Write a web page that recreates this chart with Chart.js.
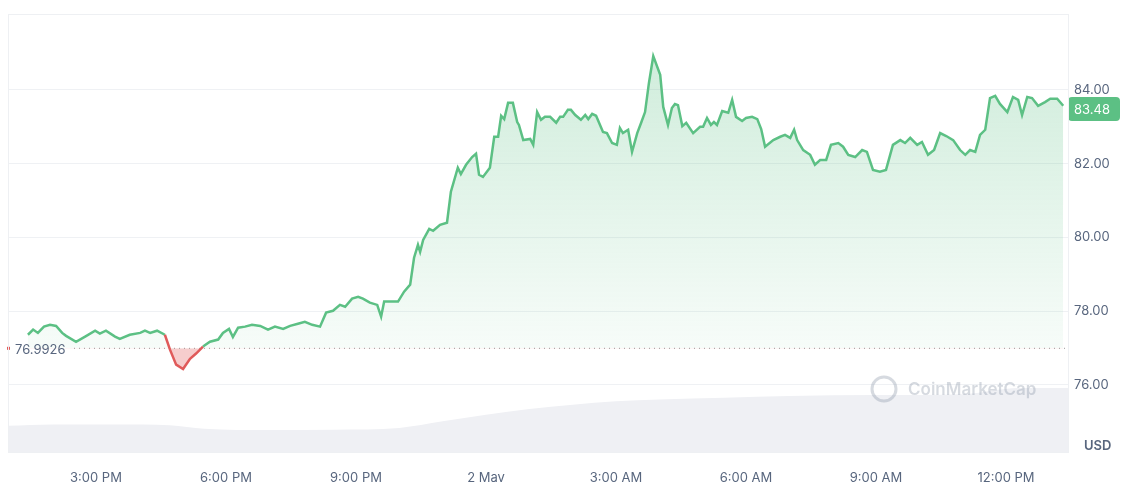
<!DOCTYPE html>
<html><head><meta charset="utf-8">
<script src="https://cdn.jsdelivr.net/npm/chart.js@4/dist/chart.umd.min.js"></script>
<style>html,body{margin:0;background:#fff}#wrap{width:1140px;height:482px}</style>
</head><body><div id="wrap"><canvas id="c"></canvas></div>
<script>
// hours since 00:00 on 1 May
const hours = [13.43,13.55,13.66,13.80,13.94,14.08,14.22,14.31,14.54,14.75,14.98,15.09,15.23,15.44,15.55,15.78,16.02,16.13,16.25,16.41,16.59,16.71,16.85,17.01,17.17,17.31,17.47,17.63,17.82,17.93,18.07,18.16,18.28,18.44,18.60,18.79,18.97,19.13,19.32,19.48,19.66,19.82,19.99,20.17,20.31,20.47,20.63,20.75,20.91,21.05,21.16,21.32,21.49,21.58,21.65,21.79,21.97,22.11,22.25,22.34,22.43,22.48,22.55,22.69,22.78,22.94,23.10,23.19,23.35,23.42,23.54,23.68,23.77,23.84,23.93,24.09,24.19,24.28,24.35,24.42,24.51,24.62,24.72,24.76,24.86,25.02,25.09,25.18,25.27,25.36,25.48,25.62,25.71,25.78,25.89,25.96,26.06,26.19,26.29,26.36,26.45,26.54,26.70,26.79,26.91,27.02,27.09,27.16,27.28,27.37,27.49,27.58,27.67,27.76,27.86,28.02,28.09,28.20,28.29,28.36,28.43,28.53,28.62,28.78,28.94,29.01,29.10,29.19,29.26,29.33,29.45,29.59,29.68,29.77,29.91,30.00,30.14,30.26,30.35,30.44,30.63,30.79,30.90,31.02,31.11,31.18,31.32,31.48,31.59,31.71,31.85,31.96,32.13,32.24,32.36,32.52,32.68,32.79,32.93,33.09,33.23,33.39,33.56,33.67,33.79,33.95,34.06,34.20,34.34,34.48,34.62,34.78,34.94,35.06,35.17,35.29,35.40,35.52,35.63,35.75,35.86,36.03,36.16,36.28,36.37,36.49,36.60,36.74,36.90,37.02,37.18,37.32];
const prices = [77.36,77.50,77.41,77.58,77.63,77.60,77.41,77.33,77.17,77.31,77.47,77.39,77.47,77.31,77.25,77.36,77.41,77.47,77.41,77.47,77.36,76.95,76.55,76.43,76.71,76.85,77.04,77.17,77.23,77.41,77.52,77.30,77.55,77.58,77.63,77.60,77.50,77.58,77.52,77.60,77.66,77.71,77.63,77.58,77.96,78.01,78.17,78.12,78.34,78.39,78.34,78.23,78.17,77.85,78.26,78.26,78.26,78.53,78.72,79.45,79.80,79.61,79.93,80.23,80.18,80.34,80.40,81.24,81.89,81.72,81.97,82.18,82.27,81.70,81.64,81.89,82.73,82.73,83.30,83.21,83.65,83.65,83.13,83.05,82.64,82.67,82.51,83.40,83.19,83.27,83.27,83.11,83.27,83.27,83.46,83.46,83.32,83.19,83.32,83.21,83.35,83.30,82.86,82.83,82.56,82.51,82.97,82.83,82.92,82.32,82.83,83.11,83.40,84.19,84.92,84.41,83.54,83.05,83.51,83.62,83.59,83.02,83.11,82.83,83.00,83.00,83.24,83.05,83.13,83.05,83.43,83.38,83.73,83.27,83.16,83.24,83.27,83.21,82.94,82.46,82.64,82.73,82.78,82.70,82.92,82.64,82.37,82.24,81.97,82.10,82.10,82.51,82.56,82.46,82.24,82.18,82.37,82.32,81.83,81.78,81.83,82.51,82.64,82.56,82.70,82.51,82.59,82.24,82.37,82.83,82.75,82.64,82.37,82.24,82.37,82.32,82.78,82.92,83.78,83.84,83.62,83.40,83.81,83.73,83.32,83.81,83.78,83.57,83.67,83.76,83.76,83.57];
const volHours = [12.97,14.0,15.5,16.7,17.5,19.0,20.5,22.0,23.0,24.0,25.0,26.0,27.0,28.0,29.5,31.0,33.0,35.0,36.3,37.43];
const volumes = [6.0,6.3,6.3,6.1,5.3,5.0,5.1,5.5,7.0,8.5,9.8,10.8,11.6,12.0,12.4,12.8,13.0,13.2,14.6,14.6];
const yTicks = [76, 78, 80, 82, 84];
const xTicks = [15, 18, 21, 24, 27, 30, 33, 36];
const xLabels = ['3:00 PM', '6:00 PM', '9:00 PM', '2 May', '3:00 AM', '6:00 AM', '9:00 AM', '12:00 PM'];
const openPrice = 76.9926;
const lastPrice = 83.48;

const green = '#5cc084', red = '#e05a5a';
const font = {family: 'Inter, "Noto Sans", sans-serif', size: 13};

const overlay = {
  id: 'overlay',
  beforeDatasetsDraw(chart) {
    const {ctx, chartArea: a, scales: {y}} = chart;
    const py = y.getPixelForValue(openPrice);
    ctx.save();
    ctx.strokeStyle = '#999'; ctx.setLineDash([1, 4]); ctx.lineWidth = 1;
    ctx.beginPath(); ctx.moveTo(a.left + 66, py); ctx.lineTo(a.right, py); ctx.stroke();
    ctx.restore();
  },
  afterDraw(chart) {
    const {ctx, chartArea: a, scales: {y}} = chart;
    const py = y.getPixelForValue(openPrice);
    ctx.save();
    ctx.fillStyle = red; ctx.fillRect(a.left - 1, py - 1.5, 3, 3);
    ctx.font = '13px Inter, "Noto Sans", sans-serif';
    ctx.fillStyle = '#58667e'; ctx.textBaseline = 'middle';
    ctx.fillText(openPrice.toFixed(4), a.left + 7, py + 2);
    // last price tag
    const ly = y.getPixelForValue(lastPrice);
    ctx.fillStyle = '#5cc084';
    ctx.beginPath(); ctx.roundRect(a.right, ly - 12, 52, 24, 4); ctx.fill();
    ctx.fillStyle = '#fff'; ctx.font = '13px Inter, "Noto Sans", sans-serif';
    ctx.fillText(lastPrice.toFixed(2), a.right + 6, ly + 1);
    // currency
    ctx.fillStyle = '#58667e'; ctx.font = '600 13px Inter, "Noto Sans", sans-serif';
    ctx.fillText('USD', a.right + 16, a.bottom - 6);
    // watermark
    ctx.globalAlpha = 0.35; ctx.strokeStyle = '#8a94a6'; ctx.fillStyle = '#8a94a6'; ctx.lineWidth = 3;
    ctx.beginPath(); ctx.arc(884, 389, 12, 0, Math.PI * 2); ctx.stroke();
    ctx.font = '600 17px Inter, "Noto Sans", sans-serif';
    ctx.fillText('CoinMarketCap', 908, 390);
    ctx.restore();
    // frame
    ctx.save(); ctx.strokeStyle = '#eef0f3'; ctx.lineWidth = 1;
    ctx.strokeRect(a.left + 0.5, a.top + 0.5, a.right - a.left, a.bottom - a.top);
    ctx.restore();
  }
};

const ctx = document.getElementById('c').getContext('2d');
new Chart(ctx, {
  type: 'line',
  data: {
    datasets: [{
      data: hours.map((h, i) => ({x: h, y: prices[i]})),
      borderColor: green, borderWidth: 2.5, pointRadius: 0, tension: 0,
      segment: {borderColor: s => (s.p0.parsed.y < openPrice || s.p1.parsed.y < openPrice) ? red : green},
      fill: {target: {value: openPrice}, above: c => {
        const a = c.chart.chartArea; if (!a) return 'rgba(92,192,132,0.2)';
        const g = c.chart.ctx.createLinearGradient(0, a.top, 0, a.bottom);
        g.addColorStop(0, 'rgba(92,192,132,0.32)'); g.addColorStop(0.85, 'rgba(92,192,132,0.02)');
        return g;
      }, below: 'rgba(224,90,90,0.3)'},
      yAxisID: 'y', order: 1
    }, {
      data: volHours.map((h, i) => ({x: h, y: volumes[i]})),
      borderWidth: 0, pointRadius: 0, fill: 'origin', backgroundColor: '#eff0f4',
      yAxisID: 'v', order: 2, cubicInterpolationMode: 'monotone'
    }]
  },
  options: {
    responsive: true, maintainAspectRatio: false, animation: false,
    layout: {padding: {left: 8, top: 14, right: 0, bottom: 0}},
    plugins: {legend: {display: false}, tooltip: {enabled: false}},
    scales: {
      x: {type: 'linear', min: 12.97, max: 37.43,
        afterBuildTicks: s => { s.ticks = xTicks.map(v => ({value: v})); },
        afterFit: s => { s.height = 30; },
        grid: {display: false}, border: {display: false},
        ticks: {font, color: '#58667e', maxRotation: 0, padding: 10,
          callback: v => xLabels[xTicks.indexOf(v)]}},
      y: {position: 'right', min: 74.18, max: 86.06,
        afterBuildTicks: s => { s.ticks = yTicks.map(v => ({value: v})); },
        afterFit: s => { s.width = 72; },
        grid: {color: '#eff1f4', drawTicks: false}, border: {display: false},
        ticks: {font, color: '#58667e', padding: 6, callback: v => v.toFixed(2)}},
      v: {display: false, min: 0, max: 100}
    }
  },
  plugins: [overlay]
});
</script></body></html>
